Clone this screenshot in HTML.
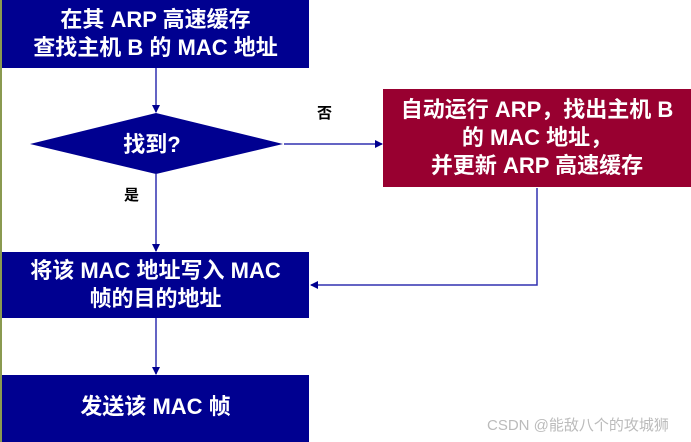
<!DOCTYPE html>
<html><head><meta charset="utf-8"><style>
body{margin:0;width:691px;height:442px;background:#fff;position:relative;overflow:hidden;font-family:"Liberation Sans","Noto Sans CJK SC",sans-serif;font-weight:bold}
.b{position:absolute;background:#000090;color:#fff;display:flex;align-items:center;justify-content:center;text-align:center;font-size:22px;line-height:28px}
.r{background:#980030;font-size:22px;line-height:28px}
.t{position:absolute;font-size:15px;color:#000}
</style></head><body>
<div style="position:absolute;left:0;top:0;width:2px;height:442px;background:#8a9a50"></div>
<div class="b" style="left:2px;top:0;width:307px;height:68px">在其 ARP 高速缓存<br>查找主机 B 的 MAC 地址</div>
<div class="b r" style="left:383px;top:89px;width:308px;height:98px">自动运行 ARP，找出主机 B<br>的 MAC 地址，<br>并更新 ARP 高速缓存</div>
<div class="b" style="left:2px;top:252px;width:307px;height:66px">将该 MAC 地址写入 MAC<br>帧的目的地址</div>
<div class="b" style="left:2px;top:375px;width:307px;height:67px;padding-bottom:4px;box-sizing:border-box">发送该 MAC 帧</div>
<svg style="position:absolute;left:0;top:0" width="691" height="442">
<defs><marker id="a" markerWidth="8" markerHeight="8" refX="7" refY="4" orient="auto" markerUnits="userSpaceOnUse"><path d="M0,0L8,4L0,8z" fill="#000090"/></marker></defs>
<polygon points="30,144 156,113 283,144 156,174" fill="#000090"/>
<text x="152" y="152" fill="#fff" font-size="22" font-weight="bold" text-anchor="middle" font-family="Liberation Sans,Noto Sans CJK SC,sans-serif">找到?</text>
<g stroke="#3030b0" stroke-width="1.5" fill="none">
<line x1="156" y1="68" x2="156" y2="112" marker-end="url(#a)"/>
<line x1="156" y1="174" x2="156" y2="251" marker-end="url(#a)"/>
<line x1="156" y1="318" x2="156" y2="374" marker-end="url(#a)"/>
<line x1="284" y1="144" x2="382" y2="144" marker-end="url(#a)"/>
<polyline points="537,188 537,285 311,285" marker-end="url(#a)"/>
</g>
</svg>
<div class="t" style="left:317px;top:102px">否</div>
<div class="t" style="left:124px;top:184px">是</div>
<div style="position:absolute;left:487px;top:414px;font-size:15px;font-weight:normal;color:#bbb">CSDN @能敌八个的攻城狮</div>
</body></html>
